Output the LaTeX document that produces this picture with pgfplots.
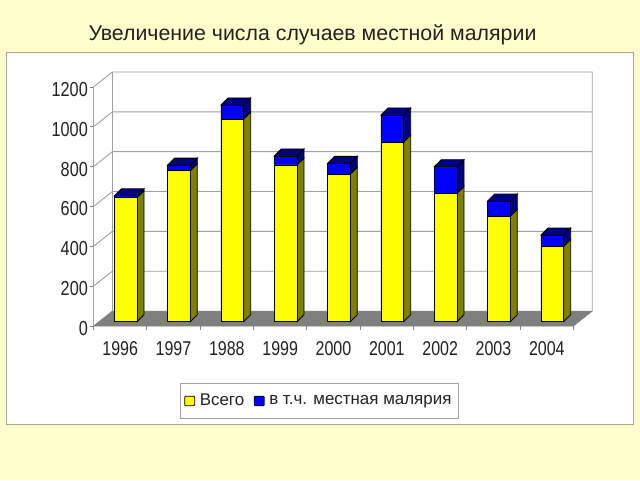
\documentclass[border=0pt]{standalone}
\usepackage{pgfplots}
\usepackage{pgfplotstable}
\usepackage{fontspec}
\pgfplotsset{compat=1.18}
\setmainfont{Liberation Sans}
\newfontfamily\tickfont[FakeStretch=0.8]{Liberation Sans}
\newdimen\px \px=0.75pt

\definecolor{pagebg}{HTML}{FFFFCC}
\definecolor{panelline}{HTML}{ABA98A}
\definecolor{wall}{HTML}{A0A0A0}
\definecolor{floorc}{HTML}{808080}
\definecolor{olive3d}{HTML}{808000}
\definecolor{navy3d}{HTML}{000080}
\definecolor{yellowbar}{HTML}{FFFF00}
\definecolor{bluebar}{HTML}{0000FF}
\definecolor{txt}{HTML}{222222}

% x = category, yellow = Всего, local = в т.ч. местная малярия
\pgfplotstableread{
x yellow local total
0 622 10 632
1 758 28 786
2 1017 71 1088
3 787 45 832
4 741 54 795
5 902 136 1038
6 645 133 778
7 530 76 606
8 378 57 435
}\tbl

\def\hw{0.2128}
\def\dep{0.131}
\def\dv{35}

\begin{document}
\begin{tikzpicture}
\path[use as bounding box,fill=pagebg] (0,0) rectangle (640\px,480\px);
\fill[white] (6.5\px,56\px) rectangle (633\px,427.5\px);
\draw[panelline,line width=1\px] (6.5\px,56\px) rectangle (633\px,427.5\px);
\begin{axis}[
  at={(93.5\px,154\px)},
  anchor=south west,
  scale only axis,
  width=498.8\px,
  height=254\px,
  clip=false,
  xmin=-0.5,xmax=8.8525,
  ymin=0,ymax=1275,
  axis x line*=bottom,
  axis y line*=left,
  axis line style={draw=none},
  tick style={draw=floorc,line width=0.75\px},
  tick align=outside,
  major tick length=3.5\px,
  xtick={-0.5,0.5,...,8.5},
  xticklabels={},
  extra x ticks={0,1,...,8},
  extra x tick labels={1996,1997,1988,1999,2000,2001,2002,2003,2004},
  extra x tick style={major tick length=0pt},
  ytick={0,200,...,1200},
  /pgf/number format/1000 sep={},
  /pgf/number format/assume math mode=true,
  xticklabel style={font=\tickfont\fontsize{15pt}{16pt}\selectfont,text=txt,yshift=-11\px},
  yticklabel style={font=\tickfont\fontsize{15.2pt}{16pt}\selectfont,text=txt,xshift=2.5\px,yshift=-2.5\px},
  no markers,
  wallline/.style={draw=wall,line width=0.9\px,forget plot},
  bar3d/.style={xshift=5.5\px,yshift=4.3\px,draw=black,line width=0.8\px,forget plot},
  legend style={
    at={(0.4525,-0.2953)},anchor=center,
    draw=wall,line width=0.9\px,
    legend columns=-1,
    inner xsep=4\px,inner ysep=8\px,
    font=\fontsize{12.7pt}{14pt}\selectfont,text=txt,
    /tikz/every even column/.append style={column sep=7\px},
    /tikz/every odd column/.append style={column sep=2\px},
  },
  legend image code/.code={
    \draw[#1,line width=0.8\px,rounded corners=1\px] (0,-4.8\px) rectangle (10\px,4.8\px);
  },
]
% floor and walls
\addplot[fill=floorc,draw=floorc,forget plot] coordinates {(-0.5,0) (8.5,0) (8.8525,75) (-0.1475,75)} --cycle;
\addplot[wallline] coordinates {(-0.5,0) (-0.5,1200) (-0.1475,1275) (8.8525,1275) (8.8525,75)};
\addplot[wallline] coordinates {(-0.1475,75) (-0.1475,1275)};
\addplot[wallline] coordinates {(-0.5,200) (-0.1475,275) (8.8525,275)};
\addplot[wallline] coordinates {(-0.5,400) (-0.1475,475) (8.8525,475)};
\addplot[wallline] coordinates {(-0.5,600) (-0.1475,675) (8.8525,675)};
\addplot[wallline] coordinates {(-0.5,800) (-0.1475,875) (8.8525,875)};
\addplot[wallline] coordinates {(-0.5,1000) (-0.1475,1075) (8.8525,1075)};
% side and top faces of the bars
\pgfplotsforeachungrouped \r in {0,1,...,8}{
  \pgfplotstablegetelem{\r}{yellow}\of\tbl \let\yy\pgfplotsretval
  \pgfplotstablegetelem{\r}{total}\of\tbl \let\tv\pgfplotsretval
  \pgfmathsetmacro\xr{\r+\hw}
  \pgfmathsetmacro\xl{\r-\hw}
  \pgfmathsetmacro\xrb{\r+\hw+\dep}
  \pgfmathsetmacro\xlb{\r-\hw+\dep}
  \pgfmathsetmacro\yb{\dv}
  \pgfmathsetmacro\yyb{\yy+\dv}
  \pgfmathsetmacro\tvb{\tv+\dv}
  \addplot[bar3d,fill=olive3d] coordinates {(\xr,0) (\xrb,\yb) (\xrb,\yyb) (\xr,\yy)} --cycle;
  \addplot[bar3d,fill=navy3d] coordinates {(\xr,\yy) (\xrb,\yyb) (\xrb,\tvb) (\xr,\tv)} --cycle;
  \addplot[bar3d,fill=navy3d] coordinates {(\xl,\tv) (\xlb,\tvb) (\xrb,\tvb) (\xr,\tv)} --cycle;
}
% front faces
\addplot[ybar,bar width=22.7\px,bar shift=0pt,bar3d,fill=bluebar] table[x=x,y=total] {\tbl};
\addplot[ybar,bar width=22.7\px,bar shift=0pt,bar3d,fill=yellowbar] table[x=x,y=yellow] {\tbl};
\addlegendimage{draw=black,fill=yellowbar}
\addlegendentry{Всего}
\addlegendimage{draw=black,fill=bluebar}
\addlegendentry{в т.ч. местная малярия}
\end{axis}
\node[text=txt,font=\fontsize{16pt}{18pt}\selectfont,anchor=center] at (312.5\px,445\px) {Увеличение числа случаев местной малярии};
\end{tikzpicture}
\end{document}
